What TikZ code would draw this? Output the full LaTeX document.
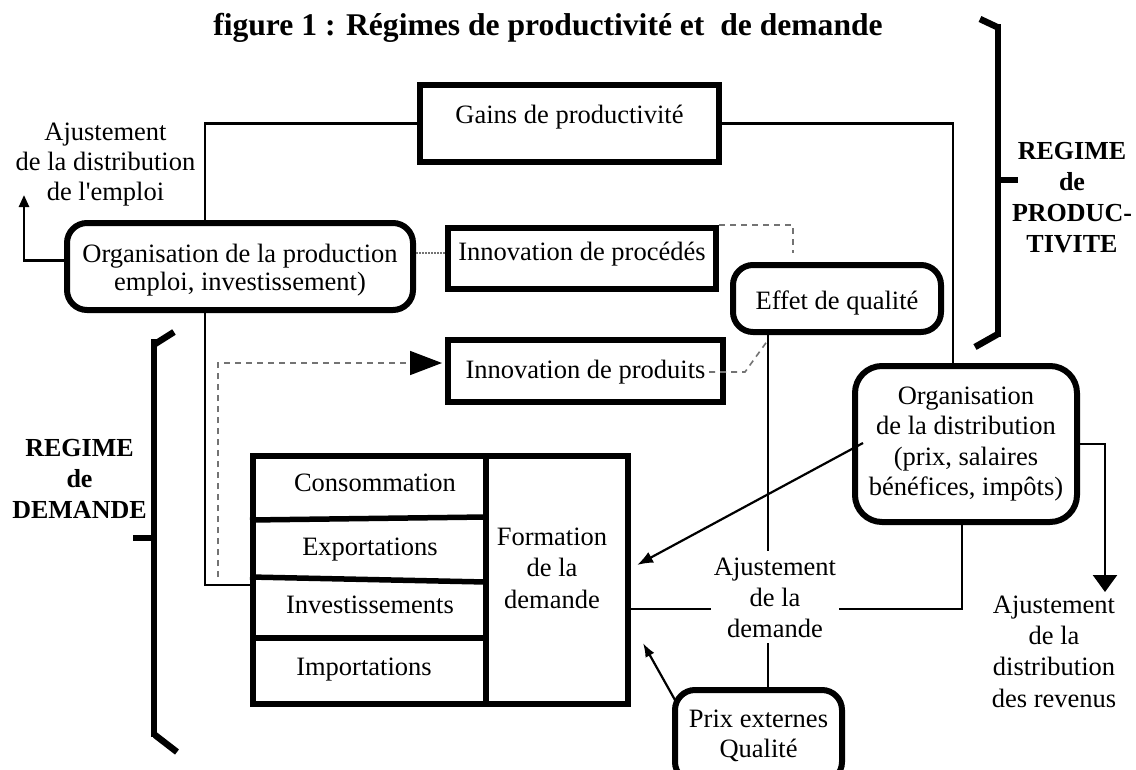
\documentclass[tikz,border=0pt]{standalone}
\usepackage{fontspec}
\setmainfont{Liberation Serif}
\newfontfamily\apfont{Liberation Serif}[Ligatures=TeXOff]
\usetikzlibrary{calc,arrows.meta}
\newcommand\myfl{\rule{0pt}{18pt}}
\newcommand\myld{\rule[-6pt]{0pt}{0pt}}
\begin{document}
\begin{tikzpicture}[x=1pt,y=-1pt,
  txt/.style={font=\fontsize{26.5}{30.5}\selectfont, inner sep=0pt},
  mtxt/.style={txt, align=center, anchor=north},
  blab/.style={font=\bfseries\fontsize{26}{31}\selectfont, inner sep=0pt, align=center, anchor=north},
  sqbox/.style={draw, line width=6pt, txt},
  rbox/.style={sqbox, rounded corners=20pt},
  conn/.style={line width=2.5pt},
  dashconn/.style={draw=black!55, line width=1.6pt, dash pattern=on 6pt off 5pt},
  dotconn/.style={draw=black!55, line width=1.6pt, dash pattern=on 1.5pt off 1.5pt},
  brack/.style={line width=6.5pt},
  divline/.style={line width=5.5pt},
]
\clip (0,0) rectangle (1136,769);
\fill[white] (0,0) rectangle (1136,769);

% helper coordinates
\coordinate (lx) at (205,0);
\coordinate (rx) at (953,0);
\coordinate (ex) at (768,0);
\coordinate (rx2) at (962,0);
\coordinate (hy) at (0,609);
\coordinate (invy) at (0,585);
\coordinate (dy) at (0,253);
\coordinate (dstart) at (218,577);
\coordinate (pdash) at (793,253);
\coordinate (revtip) at (1105,592);
\coordinate (emptip) at (24,195);

% title
\node[font=\bfseries\fontsize{31.6}{36}\selectfont, inner sep=0pt, anchor=base] (title) at (548,35) {figure 1 : Régimes de productivité et \ de demande};

% boxes
\node[sqbox, minimum width=299pt, minimum height=77pt, text height=19pt, text depth=20pt] (gains) at (569.5,123.5) {Gains de productivité};
\node[sqbox, minimum width=268pt, minimum height=61pt, text height=19pt, text depth=16pt] (inproc) at (582,258.5) {Innovation de procédés};
\node[sqbox, minimum width=275pt, minimum height=62pt, text height=19pt, text depth=5pt] (inprod) at (585.5,371) {Innovation de produits};
\node[rbox, minimum width=208pt, minimum height=67pt, text height=21pt, text depth=0pt] (effet) at (837,298.5) {Effet de qualité};
\node[rbox, align=center, font=\fontsize{26.5}{28}\selectfont, minimum width=346pt, minimum height=87pt] (orgprod) at (240,266.5) {\rule{0pt}{24.7pt}Organisation de la production\\emploi, investissement)};
\node[sqbox, rounded corners=27pt, align=center, font=\fontsize{26.5}{30.3}\selectfont, minimum width=222pt, minimum height=156pt] (orgdist) at (966,444) {\myfl Organisation\\de la distribution\\(prix, salaires\\bénéfices, impôts)\myld};
\node[rbox, align=center, font=\fontsize{26.5}{30}\selectfont, minimum width=167pt, minimum height=92pt] (prix) at (758.5,736) {\myfl Prix externes\\Qualité\myld};

% demand formation block
\node[draw, line width=6pt, minimum width=375pt, minimum height=248pt, inner sep=0pt] (dem) at (440.5,580) {};
\draw[line width=6pt] (486,453) -- (486,707);
\draw[divline] (250,520) -- (486,517);
\draw[divline] (250,577) -- (486,582);
\draw[divline] (250,638) -- (486,638);
\node[txt, anchor=base] (consom) at (375,491) {Consommation};
\node[txt, anchor=base] (export) at (370,555) {Exportations};
\node[txt, anchor=base] (invest) at (370,613) {Investissements};
\node[txt, anchor=base] (import) at (364,675) {Importations};
\node[mtxt, font=\fontsize{26.5}{31.5}\selectfont] (formation) at (552,527) {\myfl Formation\\de la\\demande};

% free texts
\node[mtxt, font=\fontsize{26.5}{30}\selectfont] (ajemp) at (105.5,122) {\myfl Ajustement\\de la distribution\\de l{\apfont '}emploi};
\node[mtxt, font=\fontsize{26.5}{31.3}\selectfont] (ajrev) at (1054,595) {\myfl Ajustement\\de la\\distribution\\des revenus};
\node[blab] (regdem) at (79.5,438) {\myfl REGIME\\de\\DEMANDE};
\node[blab] (regprod) at (1072,141) {\myfl REGIME\\de\\PRODUC-\\TIVITE};

% connectors
\draw[conn] (gains.west) -| (lx |- orgprod.north);
\draw[conn] (lx |- orgprod.south) |- (dem.west |- invy);
\draw[conn] (gains.east) -| (rx |- orgdist.north);
\draw[conn] (ex |- effet.south) -- (ex |- prix.north);
\draw[conn] (dem.east |- hy) -| (rx2 |- orgdist.south);
\node[mtxt, fill=white, inner xsep=3pt, inner ysep=6pt, font=\fontsize{26.5}{31}\selectfont] (ajdem) at (775,551) {\myfl Ajustement\\de la\\demande};

\draw[conn, line width=2.2pt, -{Latex[length=16pt,width=12pt]}] ($(orgdist.west)+(11,-1)$) -- ($(dem.east)+(6,-15)$);
\draw[conn, line width=2.2pt, -{Latex[length=14pt,width=10pt]}] ($(prix.north west)+(3,13)$) -- ($(dem.east)+(12,63)$);
\draw[conn, -{Triangle[length=17pt,width=24pt]}] (orgdist.east) -| (revtip);
\draw[conn, -{Triangle[length=12pt,width=10pt]}] ($(orgprod.west)+(0,-6)$) -| (emptip);

\draw[dotconn] (orgprod.east |- dy) -- (inproc.west |- dy);
\draw[dashconn] (inproc.north east) -| (pdash);
\draw[dashconn, -{Triangle[length=32pt,width=24pt,color=black]}] (dstart) |- ($(inprod.west)+(-3,-8)$);
\draw[dashconn] ($(inprod.east)+(-17,1)$) -- ++(36,0) -- ($(ex |- effet.south)+(0,5)$);

% brackets
\draw[brack] (154,339) -- (154,737);
\draw[brack] (155,344) -- (174,332);
\draw[brack] (155,735) -- (177,752);
\draw[brack] (133,538) -- (154,538);
\draw[brack] (998,24) -- (998,337);
\draw[brack] (997,27) -- (980,19);
\draw[brack] (998,334) -- (975,347);
\draw[brack] (998,180) -- (1018,180);
\end{tikzpicture}
\end{document}
